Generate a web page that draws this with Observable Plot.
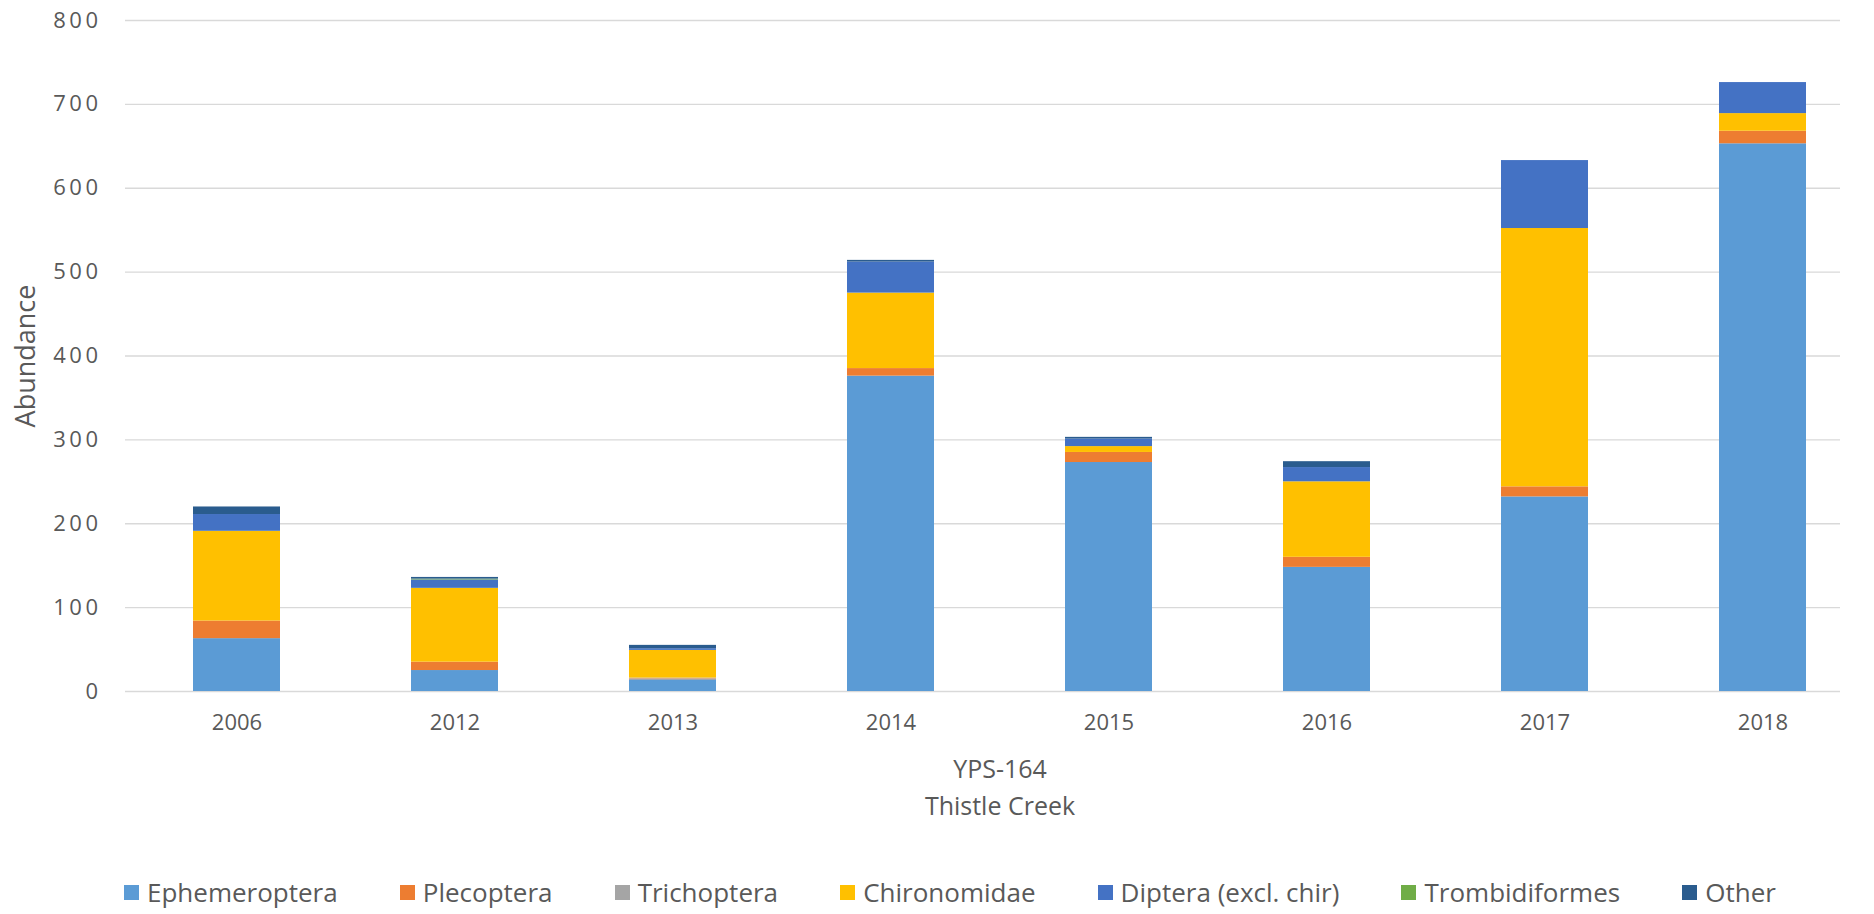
<!DOCTYPE html>
<html>
<head>
<meta charset="utf-8">
<script src="https://cdn.jsdelivr.net/npm/d3@7"></script>
<script src="https://cdn.jsdelivr.net/npm/@observablehq/plot@0.6"></script>
<style>
  html, body { margin: 0; padding: 0; background: #fff; }
  #wrap { position: relative; width: 1874px; height: 914px; font-family: "Open Sans", sans-serif; }
  #legend { position: absolute; left: 124px; top: 874px; width: 1652px; display: flex; justify-content: space-between; font-size: 26px; line-height: 36px; color: #595959; }
  #legend .item { display: flex; align-items: center; gap: 8px; }
  #legend .sw { width: 15px; height: 15px; display: inline-block; }
  #chart svg [aria-label="y-axis tick label"] text { letter-spacing: 3.5px; }
</style>
</head>
<body>
<div id="wrap">
  <div id="chart"></div>
  <div id="legend"></div>
</div>
<script>
const years = ["2006", "2012", "2013", "2014", "2015", "2016", "2017", "2018"];
const taxa = ["Ephemeroptera", "Plecoptera", "Trichoptera", "Chironomidae", "Diptera (excl. chir)", "Trombidiformes", "Other"];
const taxaColors = ["#5B9BD5", "#ED7D31", "#A5A5A5", "#FFC000", "#4472C4", "#70AD47", "#2A5C8E"];

const ephemeroptera  = [63, 25, 14, 376, 273, 148, 232, 653];
const plecoptera     = [21, 10,  1,   9,  12,  12,  12,  15];
const trichoptera    = [ 0,  0,  1,   0,   0,   0,   0,   0];
const chironomidae   = [107, 88, 33,  90,   7,  90, 308,  21];
const diptera        = [20, 10,  2,  37,   9,  17,  81,  37];
const trombidiformes = [ 0,  1,  0,   0,   0,   0,   0,   0];
const other          = [ 9,  2,  4,   2,   2,   7,   0,   0];

const yTicks = [0, 100, 200, 300, 400, 500, 600, 700, 800];
const xTitle = "YPS-164\nThistle Creek";
const yTitle = "Abundance";

const series = [ephemeroptera, plecoptera, trichoptera, chironomidae, diptera, trombidiformes, other];
const rows = [];
taxa.forEach((t, i) => {
  years.forEach((y, j) => rows.push({year: y, taxon: t, value: series[i][j]}));
});

const chart = Plot.plot({
  width: 1874,
  height: 845,
  marginTop: 20,
  marginBottom: 154,
  marginLeft: 125,
  marginRight: 34,
  style: {fontFamily: "Open Sans, sans-serif", fontSize: "20px", color: "#595959", background: "#fff"},
  x: {domain: years, range: [127, 1873], paddingInner: 0.6, paddingOuter: 0.3, label: null},
  y: {domain: [0, 800], label: null},
  color: {domain: taxa, range: taxaColors},
  marks: [
    Plot.gridY(yTicks, {stroke: "#d9d9d9", strokeOpacity: 1, strokeWidth: 1.3}),
    Plot.axisY(yTicks, {tickSize: 0, tickPadding: 24, fontSize: 22, fill: "#595959", label: null}),
    Plot.axisX({tickSize: 0, tickPadding: 23, fontSize: 22, fill: "#595959", label: null}),
    Plot.barY(rows, {x: "year", y: "value", fill: "taxon", z: "taxon"}),
    Plot.text([xTitle], {frameAnchor: "bottom", dx: 17, dy: 60, fontSize: 25, fill: "#595959", lineHeight: 1.48, lineAnchor: "top"}),
    Plot.text([yTitle], {frameAnchor: "left", textAnchor: "middle", dx: -99, rotate: -90, fontSize: 27, fill: "#595959"})
  ]
});
document.getElementById("chart").appendChild(chart);

const legend = document.getElementById("legend");
taxa.forEach((t, i) => {
  const item = document.createElement("div");
  item.className = "item";
  const sw = document.createElement("span");
  sw.className = "sw";
  sw.style.background = taxaColors[i];
  const lab = document.createElement("span");
  lab.textContent = t;
  item.appendChild(sw);
  item.appendChild(lab);
  legend.appendChild(item);
});
</script>
</body>
</html>
